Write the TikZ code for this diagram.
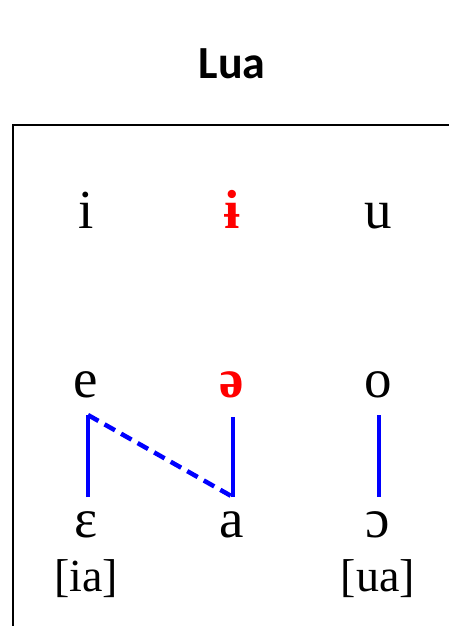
\documentclass[tikz,border=0pt]{standalone}
\usepackage{fontspec}
\setmainfont{Liberation Serif}
\newfontfamily\titlefont{Carlito}
\tikzset{
  vow/.style={inner sep=0pt, anchor=base, font=\fontsize{55}{60}\selectfont},
  red vow/.style={vow, text={rgb,255:red,255;green,0;blue,0}, font=\fontsize{55}{60}\selectfont\bfseries},
  gloss/.style={inner sep=0pt, anchor=base, font=\fontsize{46}{50}\selectfont},
  merge/.style={draw={rgb,255:red,0;green,0;blue,255}, line width=4.5pt, line cap=butt},
}
\begin{document}
\begin{tikzpicture}[x=1pt,y=-1pt]
\useasboundingbox (0,0) rectangle (448,626);
\node[inner sep=0pt, anchor=base, font=\titlefont\fontsize{46}{50}\selectfont\bfseries] (title) at (232,78) {Lua};
\draw[line width=2.6pt] (13,640) -- (13,125) -- (460,125);
\node[vow] (i) at (86,228) {i};
\node[red vow] (ibar) at (232,228) {ɨ};
\node[vow] (u) at (378,228) {u};
\node[vow] (e) at (86,397) {e};
\node[red vow] (schwa) at (232,397) {ə};
\node[vow] (o) at (378,397) {o};
\node[vow] (eps) at (86,537) {ɛ};
\node[vow] (a) at (232,537) {a};
\node[vow] (oo) at (378,537) {ɔ};
\node[gloss] (ia) at (86,591) {[ia]};
\node[gloss] (ua) at (378,591) {[ua]};
\coordinate (e1) at (88,415);
\coordinate (e2) at (88,497);
\coordinate (a1) at (233,417);
\coordinate (a2) at (233,497);
\coordinate (o1) at (379,415);
\coordinate (o2) at (379,497);
\draw[merge] (e2) -- (e1);
\draw[merge, dash pattern=on 12pt off 7pt] (e1) -- (a2);
\draw[merge] (a2) -- (a1);
\draw[merge] (o1) -- (o2);
\end{tikzpicture}
\end{document}
